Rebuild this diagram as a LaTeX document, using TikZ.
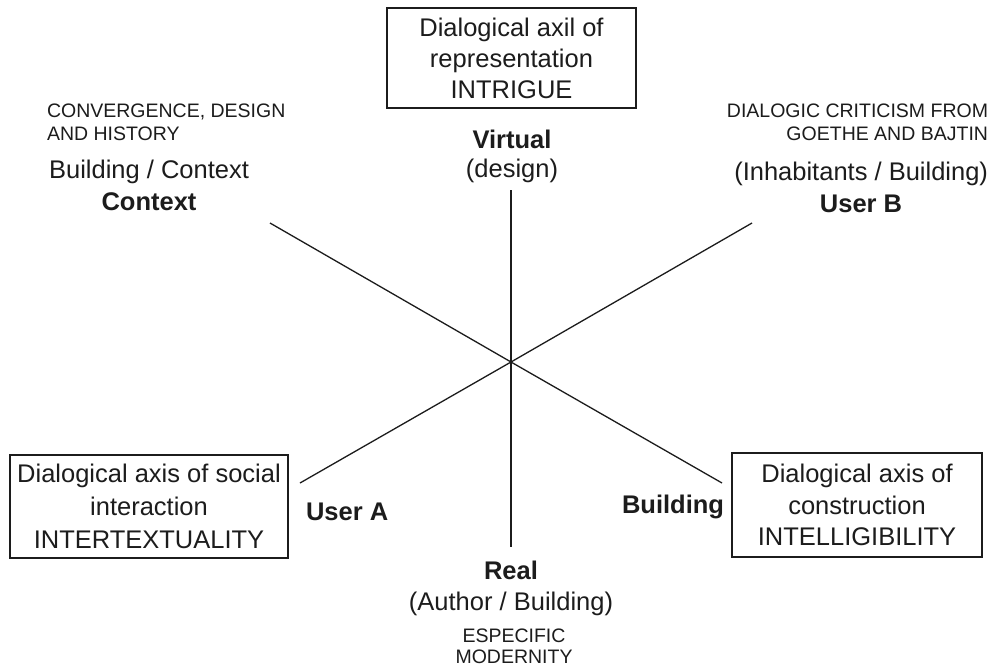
\documentclass[tikz,border=0pt]{standalone}
\usepackage{fontspec}
\setmainfont{Liberation Sans}
\definecolor{ink}{HTML}{1C1C1C}
\begin{document}
\begin{tikzpicture}[x=1pt,y=-1pt,
  every node/.style={inner sep=0pt, outer sep=0pt, text=ink},
  big/.style={font=\fontsize{25.5}{31}\selectfont},
  bigb/.style={font=\fontsize{25.5}{31}\selectfont\bfseries},
  small/.style={font=\fontsize{19.5}{23}\selectfont},
  axisbox/.style={draw=ink, line width=1.8pt, align=center},
  axisline/.style={draw=ink, line width=1.3pt}
]
% canvas
\fill[white] (0,0) rectangle (992,670);
\useasboundingbox (0,0) rectangle (992,670);

% boxed dialogical axes
\node[axisbox, font=\fontsize{25.5}{31}\selectfont,
      minimum width=249pt, minimum height=100pt] (rep) at (511.5,58)
  {Dialogical axil of\\representation\\INTRIGUE};
\node[axisbox, font=\fontsize{25.5}{33}\selectfont,
      minimum width=278pt, minimum height=103pt] (soc) at (149,506.5)
  {Dialogical axis of social\\interaction\\INTERTEXTUALITY};
\node[axisbox, font=\fontsize{25.5}{31.5}\selectfont,
      minimum width=250pt, minimum height=104pt] (con) at (857,505)
  {Dialogical axis of\\construction\\INTELLIGIBILITY};

% axis end points and centre
\coordinate (ctr) at (511,362);
\coordinate (vtop) at (511,190);
\coordinate (vbot) at (511,547);
\coordinate (ctxend) at (270,223);
\coordinate (bldend) at (722,483);
\coordinate (ubend) at (752,223);
\coordinate (uaend) at (300,483);

% the three axes
\draw[axisline] (vtop) -- (ctr) -- (vbot);
\draw[axisline] (ctxend) -- (ctr) -- (bldend);
\draw[axisline] (ubend) -- (ctr) -- (uaend);

% upper left: context
\node[small, anchor=base west] (ctxa) at (47,117) {CONVERGENCE, DESIGN};
\node[small, anchor=base west] (ctxb) at (47,140) {AND HISTORY};
\node[big, anchor=base] (ctxc) at (149,178) {Building / Context};
\node[bigb, anchor=base] (ctxd) at (149,210) {Context};

% upper right: user B
\node[small, anchor=base east] (uba) at (988,117) {DIALOGIC CRITICISM FROM};
\node[small, anchor=base east] (ubb) at (988,140) {GOETHE AND BAJTIN};
\node[big, anchor=base east] (ubc) at (988,180) {(Inhabitants / Building)};
\node[bigb, anchor=base] (ubd) at (861,212) {User B};

% top: virtual
\node[bigb, anchor=base] (virt) at (512,148) {Virtual};
\node[big, anchor=base] (dsgn) at (512,177) {(design)};

% bottom: real
\node[bigb, anchor=base] (real) at (511,579) {Real};
\node[big, anchor=base] (auth) at (511,610) {(Author / Building)};
\node[small, anchor=base] (espa) at (514,642) {ESPECIFIC};
\node[small, anchor=base] (espb) at (514,663) {MODERNITY};

% lower ends of the diagonals
\node[bigb, anchor=base west] (usra) at (306,520) {User A};
\node[bigb, anchor=base east] (bldg) at (724,513) {Building};
\end{tikzpicture}
\end{document}
